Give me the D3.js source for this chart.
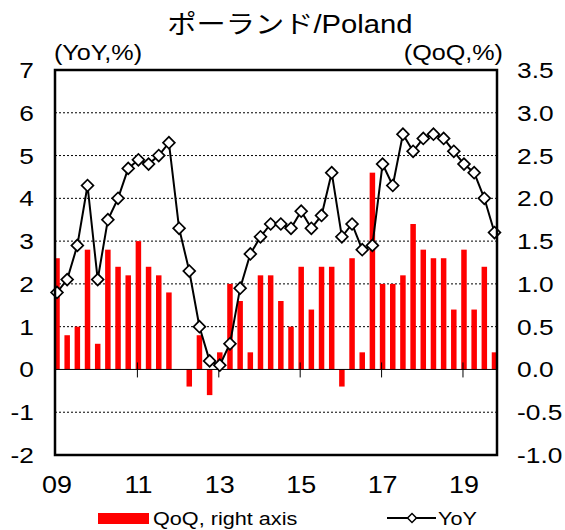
<!DOCTYPE html>
<html>
<head>
<meta charset="utf-8">
<script src="https://cdn.jsdelivr.net/npm/d3@7"></script>
<style>
  body { margin: 0; background: #fff; }
  text { font-family: "Liberation Sans", Arial, "Noto Sans CJK JP", sans-serif; fill: #000; }
</style>
</head>
<body>
<div id="chart"></div>
<script>
// Data: 2009Q1 .. 2019Q4
const years = [2009, 2010, 2011, 2012, 2013, 2014, 2015, 2016, 2017, 2018, 2019]
const quarters = years.flatMap(y => [1, 2, 3, 4].map(q => `${y}Q${q}`))

const yoy = [1.8, 2.1, 2.9, 4.3, 2.1, 3.5, 4.0, 4.7, 4.9, 4.8, 5.0, 5.3,
  3.3, 2.3, 1.0, 0.2, 0.1, 0.6, 1.9, 2.7, 3.1, 3.4, 3.4, 3.3,
  3.7, 3.3, 3.6, 4.6, 3.1, 3.4, 2.8, 2.9, 4.8, 4.3, 5.5, 5.1,
  5.4, 5.5, 5.4, 5.1, 4.8, 4.6, 4.0, 3.2]

const qoq = [1.3, 0.4, 0.5, 1.4, 0.3, 1.4, 1.2, 1.1, 1.5, 1.2, 1.1, 0.9,
  0.0, -0.2, 0.4, -0.3, 0.2, 1.0, 0.8, 0.2, 1.1, 1.1, 0.8, 0.5,
  1.2, 0.7, 1.2, 1.2, -0.2, 1.3, 0.2, 2.3, 1.0, 1.0, 1.1, 1.7,
  1.4, 1.3, 1.3, 0.7, 1.4, 0.7, 1.2, 0.2]

const leftTicks = [7, 6, 5, 4, 3, 2, 1, 0, -1, -2]
const rightTicks = [3.5, 3.0, 2.5, 2.0, 1.5, 1.0, 0.5, 0.0, -0.5, -1.0]
const xTickYears = ['2009', '2011', '2013', '2015', '2017', '2019']

// Dimensions
const width = 565
const height = 530
const plot = { left: 55, right: 497, top: 70, bottom: 455 }
const stretch = 1.17 // text in the original is a bit wide

const svg = d3.select('#chart')
  .append('svg')
  .attr('width', width)
  .attr('height', height)

// helper: place text with horizontal stretch
function label(g, x, y, str, size, anchor = 'start') {
  return g.append('text')
    .attr('transform', `translate(${x},${y}) scale(${stretch},1)`)
    .attr('text-anchor', anchor)
    .style('font-size', size + 'px')
    .text(str)
}

// scales
const xScale = d3.scaleLinear()
  .domain([0, quarters.length - 1])
  .range([57, 494.5])

const yLeft = d3.scaleLinear()
  .domain([-2, 7])
  .range([plot.bottom, plot.top])

const yRight = d3.scaleLinear()
  .domain([-1, 3.5])
  .range([plot.bottom, plot.top])

// title
label(svg, 290, 33, 'ポーランド/Poland', 25, 'middle')
label(svg, 54, 60, '(YoY,%)', 21.5)
label(svg, 503, 60, '(QoQ,%)', 21.5, 'end')

// gridlines
svg.append('g')
  .selectAll('line')
  .data(leftTicks.filter(d => d !== 0 && d !== 7 && d !== -2))
  .join('line')
  .attr('x1', plot.left)
  .attr('x2', plot.right)
  .attr('y1', d => yLeft(d))
  .attr('y2', d => yLeft(d))
  .attr('stroke', '#000')
  .attr('stroke-width', 1)
  .attr('stroke-dasharray', '2,2')

// left axis labels
const leftG = svg.append('g')
leftTicks.forEach(d => label(leftG, 34, yLeft(d) + 8, d3.format('d')(d).replace('−', '-'), 22.5, 'end'))

// right axis labels
const rightG = svg.append('g')
rightTicks.forEach(d => label(rightG, 517, yRight(d) + 8, d3.format('.1f')(d).replace('−', '-'), 22.5))

// bars
const barW = 5.5
svg.append('g')
  .selectAll('rect')
  .data(qoq)
  .join('rect')
  .attr('x', (d, i) => xScale(i) - barW / 2)
  .attr('y', d => yRight(Math.max(0, d)))
  .attr('width', barW)
  .attr('height', d => Math.abs(yRight(d) - yRight(0)))
  .attr('fill', '#ff0000')

// zero line
svg.append('line')
  .attr('x1', plot.left)
  .attr('x2', plot.right)
  .attr('y1', yLeft(0))
  .attr('y2', yLeft(0))
  .attr('stroke', '#000')
  .attr('stroke-width', 1)

// x ticks on zero line
const xTickIdx = xTickYears.map(y => quarters.indexOf(`${y}Q1`))
svg.append('g')
  .selectAll('line')
  .data(xTickIdx.slice(1))
  .join('line')
  .attr('x1', d => xScale(d) - 1)
  .attr('x2', d => xScale(d) - 1)
  .attr('y1', yLeft(0) - 7)
  .attr('y2', yLeft(0) + 8)
  .attr('stroke', '#000')
  .attr('stroke-width', 1)

const xLabG = svg.append('g')
xTickIdx.forEach(d => label(xLabG, xScale(d), 493, quarters[d].slice(2, 4), 23, 'middle'))

// line
const line = d3.line()
  .x((d, i) => xScale(i))
  .y(d => yLeft(d))

svg.append('path')
  .datum(yoy)
  .attr('d', line)
  .attr('fill', 'none')
  .attr('stroke', '#000')
  .attr('stroke-width', 2)

const diamond = d3.symbol().type(d3.symbolSquare).size(70)
svg.append('g')
  .selectAll('path')
  .data(yoy)
  .join('path')
  .attr('d', diamond)
  .attr('transform', (d, i) => `translate(${xScale(i)},${yLeft(d)}) rotate(45)`)
  .attr('fill', '#fff')
  .attr('stroke', '#000')
  .attr('stroke-width', 1.7)

// frame
svg.append('rect')
  .attr('x', plot.left)
  .attr('y', plot.top)
  .attr('width', plot.right - plot.left)
  .attr('height', plot.bottom - plot.top)
  .attr('fill', 'none')
  .attr('stroke', '#000')
  .attr('stroke-width', 2.5)

// legend
const legend = svg.append('g')
legend.append('rect')
  .attr('x', 98)
  .attr('y', 513)
  .attr('width', 51)
  .attr('height', 11)
  .attr('fill', '#ff0000')
label(legend, 153, 525, 'QoQ, right axis', 18.5)
legend.append('line')
  .attr('x1', 387)
  .attr('x2', 436)
  .attr('y1', 518)
  .attr('y2', 518)
  .attr('stroke', '#000')
  .attr('stroke-width', 2)
legend.append('path')
  .attr('d', d3.symbol().type(d3.symbolSquare).size(40))
  .attr('transform', 'translate(412,518) rotate(45)')
  .attr('fill', '#fff')
  .attr('stroke', '#000')
  .attr('stroke-width', 1.5)
label(legend, 438, 525, 'YoY', 18.5)
</script>
</body>
</html>
